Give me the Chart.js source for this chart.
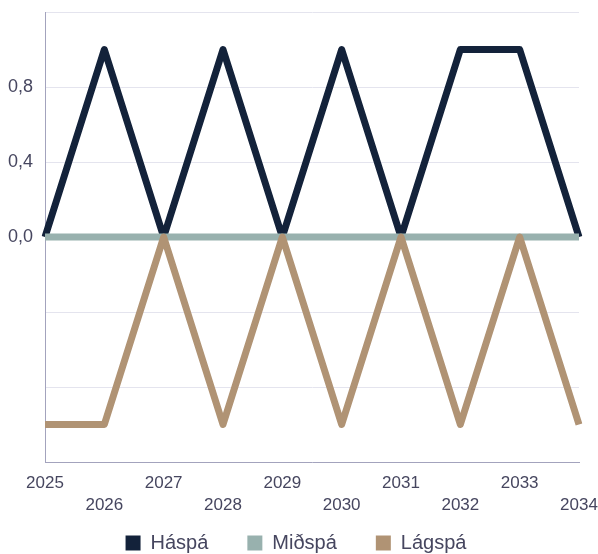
<!DOCTYPE html>
<html>
<head>
<meta charset="utf-8">
<script src="https://cdn.jsdelivr.net/npm/chart.js@4/dist/chart.umd.min.js"></script>
<style>
  html, body { margin: 0; padding: 0; background: #ffffff; }
  #wrap { width: 598px; height: 554px; position: relative; }
</style>
</head>
<body>
<div id="wrap"><canvas id="c"></canvas></div>
<script>
// Years on the x axis
const years = ['2025', '2026', '2027', '2028', '2029', '2030', '2031', '2032', '2033', '2034'];

// Forecast series
const haspa = [0, 1, 0, 1, 0, 1, 0, 1, 1, 0];
const midspa = [0, 0, 0, 0, 0, 0, 0, 0, 0, 0];
const lagspa = [-1, -1, 0, -1, 0, -1, 0, -1, 0, -1];

// Y ticks that carry a label
const labelledTicks = [0, 0.4, 0.8];

const textColor = '#46465f';
const fontFamily = '"Liberation Sans", Arial, sans-serif';

// The x axis box is kept short so the legend sits close to the plot;
// widen its clip region so the two-row year labels stay visible.
const xLabelRoom = {
  id: 'xLabelRoom',
  afterLayout(chart) {
    const x = chart.scales.x;
    x.bottom = x.top + 70;
  }
};

new Chart(document.getElementById('c'), {
  type: 'line',
  data: {
    labels: years,
    datasets: [
      // lower "order" is painted on top: Lágspá over Miðspá over Háspá
      { label: 'Háspá', data: haspa, borderColor: '#13223a', backgroundColor: '#13223a', order: 3 },
      { label: 'Miðspá', data: midspa, borderColor: '#98b1ae', backgroundColor: '#98b1ae', order: 2 },
      { label: 'Lágspá', data: lagspa, borderColor: '#b09374', backgroundColor: '#b09374', order: 1 }
    ].map(d => Object.assign(d, {
      borderWidth: 7,
      pointRadius: 0,
      pointHoverRadius: 0,
      tension: 0,
      borderJoinStyle: 'round',
      fill: false
    }))
  },
  plugins: [xLabelRoom],
  options: {
    responsive: true,
    maintainAspectRatio: false,
    animation: false,
    layout: { padding: { top: 0, right: 6, left: 0, bottom: -9 } },
    scales: {
      x: {
        offset: false,
        grid: { display: false, drawTicks: false },
        border: { display: true, color: '#a3a3bd', width: 1 },
        afterFit: (scale) => {
          scale.height = 32;
          scale.paddingLeft = 0;
          scale.paddingRight = 19;
        },
        ticks: {
          color: textColor,
          font: { family: fontFamily, size: 17, lineHeight: 1.3 },
          padding: 10,
          maxRotation: 0,
          autoSkip: false,
          callback: function (value, index) {
            const label = this.getLabelForValue(value);
            return index % 2 === 0 ? [label, ''] : ['', label];
          }
        }
      },
      y: {
        min: -1.2,
        max: 1.2,
        grid: { color: '#e4e4ee', drawTicks: false, lineWidth: 1 },
        border: { display: true, color: '#a3a3bd', width: 1 },
        afterFit: (scale) => {
          scale.width = 45;
          scale.paddingTop = 12;
          scale.paddingBottom = 0;
        },
        ticks: {
          stepSize: 0.4,
          color: textColor,
          font: { family: fontFamily, size: 18 },
          padding: 12,
          callback: function (value) {
            const v = Math.round(value * 10) / 10;
            if (!labelledTicks.includes(v)) return '';
            return v.toFixed(1).replace('.', ',');
          }
        }
      }
    },
    plugins: {
      legend: {
        position: 'bottom',
        labels: {
          color: textColor,
          font: { family: fontFamily, size: 20 },
          boxWidth: 15,
          boxHeight: 15,
          padding: 39,
          sort: (a, b) => a.datasetIndex - b.datasetIndex,
          generateLabels: (chart) => {
            const items = Chart.defaults.plugins.legend.labels.generateLabels(chart);
            items.forEach(it => { it.lineWidth = 0; it.strokeStyle = 'rgba(0,0,0,0)'; });
            return items;
          }
        }
      },
      tooltip: { enabled: false }
    }
  }
});
</script>
</body>
</html>
